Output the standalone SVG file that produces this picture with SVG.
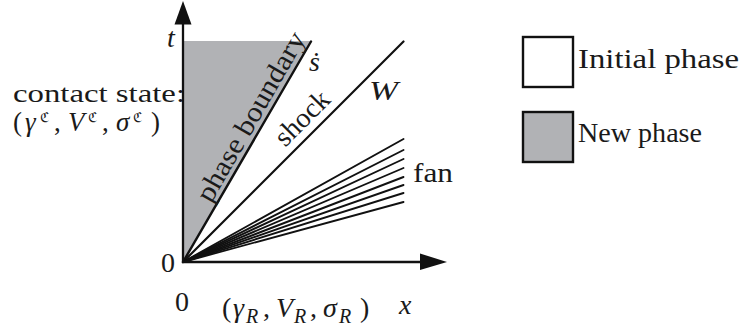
<svg xmlns="http://www.w3.org/2000/svg" width="744" height="327" viewBox="0 0 744 327">
<style>
.t{font-family:"Liberation Serif","DejaVu Serif",serif;font-size:28px;fill:#1a1a1a}
.c1{font-size:26px}
.m{font-size:27px}
.i{font-style:italic}
.sup{font-family:"DejaVu Serif","DejaVu Sans",serif;font-size:13.5px;font-style:normal}
.sub{font-size:20px;font-style:italic}
.ln{stroke:#111;fill:none;stroke-linecap:round}
.gray{fill:#b1b2b5}
</style>
<rect width="744" height="327" fill="#fff"/>
<text class="t c1" x="13" y="101.5" textLength="172" lengthAdjust="spacingAndGlyphs">contact state:</text>
<text class="t m" y="131"><tspan x="13">(</tspan><tspan x="25" class="i">γ</tspan><tspan x="40" y="121.5" class="sup">ℭ</tspan><tspan x="54" y="131">,</tspan><tspan x="68" class="i">V</tspan><tspan x="88" y="121.5" class="sup">ℭ</tspan><tspan x="102" y="131">,</tspan><tspan x="116" class="i">σ</tspan><tspan x="133" y="121.5" class="sup">ℭ</tspan><tspan x="151" y="131">)</tspan></text>
<g id="new-phase-region">
<polygon class="gray" points="183,41 311,41 183,262"/>
</g>
<g id="connectors">
<line class="ln" x1="183" y1="262" x2="311" y2="41.5" stroke-width="2.4"/>
<line class="ln" x1="183" y1="262" x2="403.5" y2="41.5" stroke-width="2.2"/>
<g stroke-width="1.9">
<line class="ln" x1="183" y1="262" x2="403.5" y2="139"/>
<line class="ln" x1="183" y1="262" x2="403.5" y2="150"/>
<line class="ln" x1="183" y1="262" x2="403.5" y2="159"/>
<line class="ln" x1="183" y1="262" x2="403.5" y2="168"/>
<line class="ln" x1="183" y1="262" x2="403.5" y2="177"/>
<line class="ln" x1="183" y1="262" x2="403.5" y2="185"/>
<line class="ln" x1="183" y1="262" x2="403.5" y2="193"/>
<line class="ln" x1="183" y1="262" x2="403.5" y2="202"/>
</g>
</g>
<g id="axes">
<line x1="183" y1="263" x2="183" y2="22" stroke="#111" stroke-width="2.3"/>
<polygon points="183,1 191.5,24.5 174.5,24.5" fill="#111"/>
<line x1="182" y1="262" x2="422" y2="262" stroke="#111" stroke-width="2.3"/>
<polygon points="447,262 420,253.5 420,270" fill="#111"/>
</g>
<g id="labels">
<text class="t i" x="167" y="47">t</text>
<text class="t" x="161" y="272">0</text>
<text class="t" x="175" y="311">0</text>
<text class="t" y="317"><tspan x="222">(</tspan><tspan x="233" class="i">γ</tspan><tspan x="246" y="323" class="sub">R</tspan><tspan x="263" y="317">,</tspan><tspan x="276" class="i">V</tspan><tspan x="294" y="323" class="sub">R</tspan><tspan x="310" y="317">,</tspan><tspan x="323" class="i">σ</tspan><tspan x="339" y="323" class="sub">R</tspan><tspan x="360" y="317">)</tspan></text>
<text class="t i" x="399" y="314">x</text>
<text class="t i" x="309" y="71">ṡ</text>
<text class="t i" x="369" y="100" textLength="29" lengthAdjust="spacingAndGlyphs">W</text>
<text class="t" x="413" y="182" textLength="40" lengthAdjust="spacingAndGlyphs">fan</text>
<text class="t" transform="translate(211,204) rotate(-60.1)" textLength="191" lengthAdjust="spacingAndGlyphs">phase boundary</text>
<text class="t" transform="translate(285.2,147.8) rotate(-45)" textLength="66" lengthAdjust="spacingAndGlyphs">shock</text>
</g>
<g id="legend-initial">
<rect x="523" y="37" width="50" height="50" fill="#fff" stroke="#111" stroke-width="2.4"/>
<text class="t" x="578" y="68" textLength="161" lengthAdjust="spacingAndGlyphs">Initial phase</text>
</g>
<g id="legend-new">
<rect x="523" y="112" width="50" height="50" class="gray" stroke="#111" stroke-width="2.4"/>
<text class="t" x="578" y="142" textLength="124" lengthAdjust="spacingAndGlyphs">New phase</text>
</g>
</svg>
